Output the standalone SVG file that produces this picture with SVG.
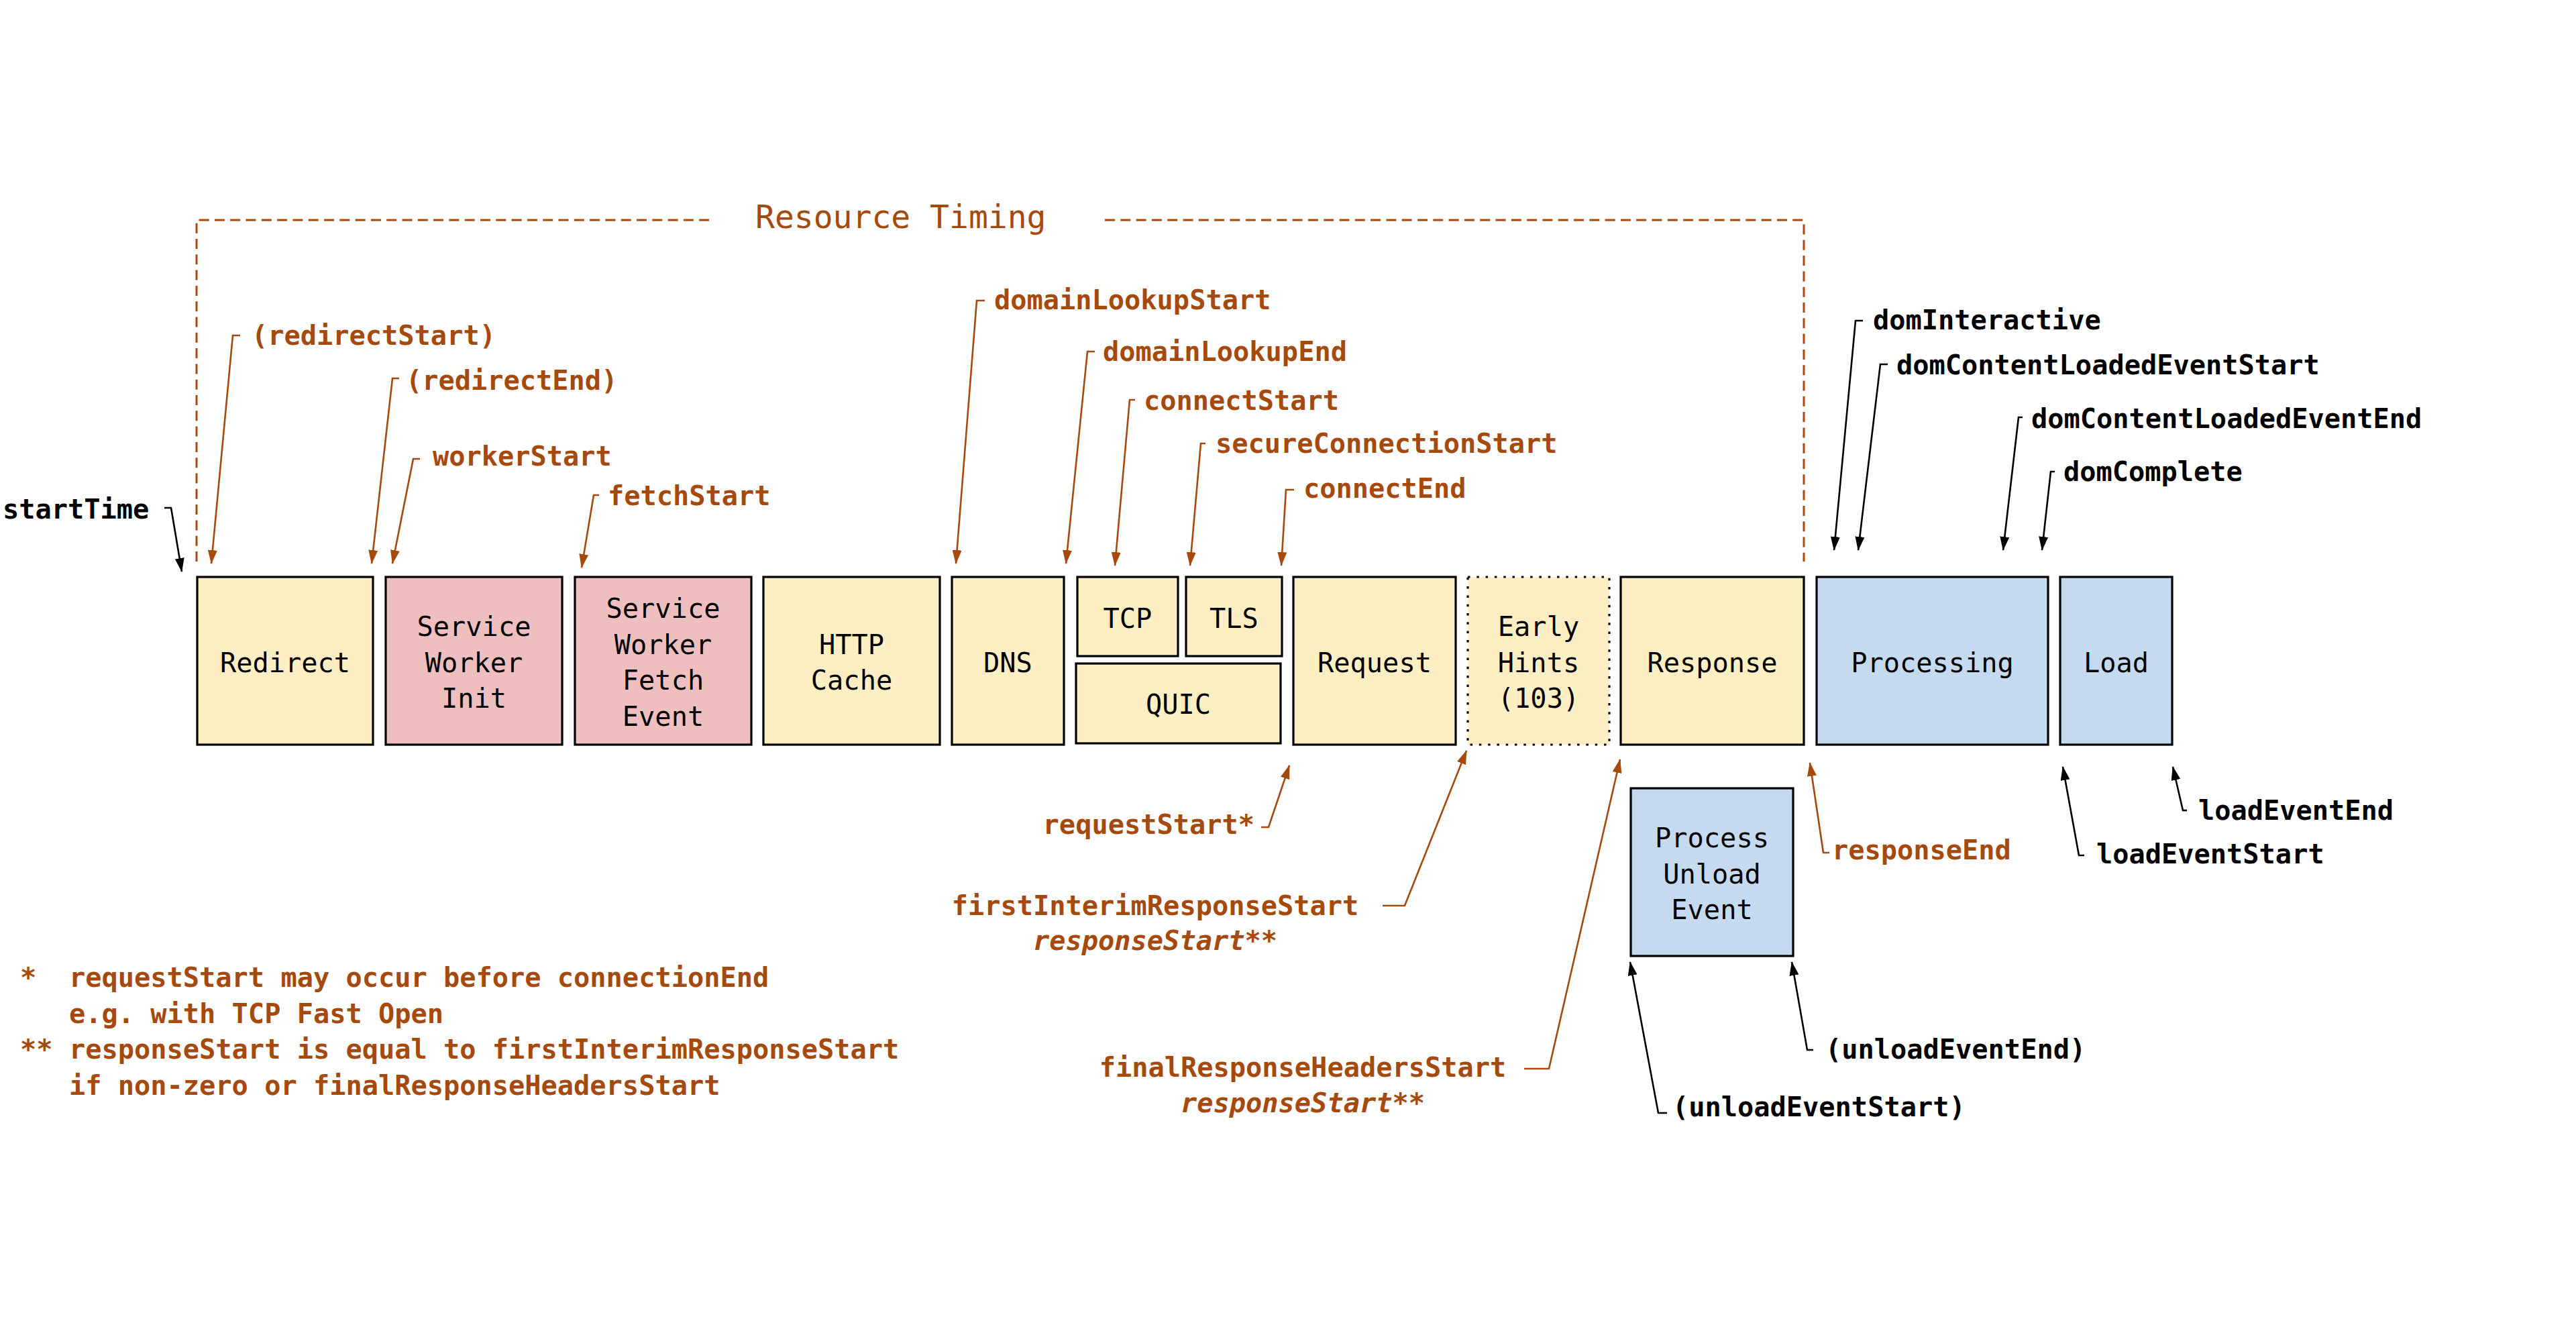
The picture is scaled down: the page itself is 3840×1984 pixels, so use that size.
<svg xmlns="http://www.w3.org/2000/svg" width="3840" height="1984" viewBox="0 0 3840 1984">
<style>
text{font-family:"DejaVu Sans Mono","Liberation Mono",monospace;font-size:40.3px}
.box{stroke:#000;stroke-width:3.2}
.y{fill:#FDEFC3}.p{fill:#EFBFBF}.b{fill:#C5DAEE}
.dot{stroke-dasharray:3.5 9.8;stroke-linecap:butt}
.nl{fill:#000;text-anchor:middle}
.ol{fill:#A5490D;font-weight:bold}
.bl{fill:#000;font-weight:bold}
.it{font-style:italic}
.title{fill:#A5490D;font-size:48px}
.lo{fill:none;stroke:#A5490D;stroke-width:2.6;marker-end:url(#ao)}
.lb{fill:none;stroke:#000;stroke-width:2.6;marker-end:url(#ab)}
.dash{fill:none;stroke:#A5490D;stroke-width:3;stroke-dasharray:15 8.3}
</style>
<defs>
<marker id="ao" markerUnits="userSpaceOnUse" markerWidth="22" markerHeight="14" refX="20" refY="7" orient="auto"><path d="M0,0 L21,7 L0,14 z" fill="#A5490D"/></marker>
<marker id="ab" markerUnits="userSpaceOnUse" markerWidth="22" markerHeight="14" refX="20" refY="7" orient="auto"><path d="M0,0 L21,7 L0,14 z" fill="#000"/></marker>
</defs>
<rect width="3840" height="1984" fill="#fff"/>

<g id="resource-timing">
<path class="dash" d="M293,837 L293,328 L1057,328"/>
<path class="dash" d="M1647,328 L2689,328 L2689,837"/>
<text class="title" x="1126" y="340">Resource Timing</text>
</g>

<g id="redirect"><rect class="box y" x="294" y="860" width="262" height="250"/><text class="nl" x="425" y="1002">Redirect</text></g>
<g id="sw-init"><rect class="box p" x="575" y="860" width="263" height="250"/><text class="nl" x="706.5" y="948">Service</text><text class="nl" x="706.5" y="1002">Worker</text><text class="nl" x="706.5" y="1055">Init</text></g>
<g id="sw-fetch"><rect class="box p" x="857" y="860" width="263" height="250"/><text class="nl" x="988.5" y="921">Service</text><text class="nl" x="988.5" y="975">Worker</text><text class="nl" x="988.5" y="1028">Fetch</text><text class="nl" x="988.5" y="1082">Event</text></g>
<g id="http-cache"><rect class="box y" x="1138" y="860" width="263" height="250"/><text class="nl" x="1269.5" y="975">HTTP</text><text class="nl" x="1269.5" y="1028">Cache</text></g>
<g id="dns"><rect class="box y" x="1419" y="860" width="167" height="250"/><text class="nl" x="1502.5" y="1002">DNS</text></g>
<g id="tcp"><rect class="box y" x="1606" y="860" width="150" height="118"/><text class="nl" x="1681" y="936">TCP</text></g>
<g id="tls"><rect class="box y" x="1768" y="860" width="143" height="118"/><text class="nl" x="1839.5" y="936">TLS</text></g>
<g id="quic"><rect class="box y" x="1604" y="989" width="305" height="119"/><text class="nl" x="1756.5" y="1064">QUIC</text></g>
<g id="request"><rect class="box y" x="1928" y="860" width="242" height="250"/><text class="nl" x="2049" y="1002">Request</text></g>
<g id="early-hints"><rect class="y" x="2188" y="860" width="211" height="250"/><rect class="dot" x="2188" y="860" width="211" height="250" fill="none" stroke="#000" stroke-width="3.2"/><text class="nl" x="2293.5" y="948">Early</text><text class="nl" x="2293.5" y="1002">Hints</text><text class="nl" x="2293.5" y="1055">(103)</text></g>
<g id="response"><rect class="box y" x="2416" y="860" width="273" height="250"/><text class="nl" x="2552.5" y="1002">Response</text></g>
<g id="processing"><rect class="box b" x="2708" y="860" width="345" height="250"/><text class="nl" x="2880.5" y="1002">Processing</text></g>
<g id="load"><rect class="box b" x="3071" y="860" width="167" height="250"/><text class="nl" x="3154.5" y="1002">Load</text></g>
<g id="unload"><rect class="box b" x="2431" y="1175" width="242" height="250"/><text class="nl" x="2552" y="1263">Process</text><text class="nl" x="2552" y="1317">Unload</text><text class="nl" x="2552" y="1370">Event</text></g>

<g id="connectors">
<path class="lb" d="M245,757 L255,757 L271,852"/>
<path class="lo" d="M358,500 L347,500 L315,840"/>
<path class="lo" d="M595,564 L585,564 L554,840"/>
<path class="lo" d="M626,684 L616,684 L585,840"/>
<path class="lo" d="M893,738 L885,738 L867,846"/>
<path class="lo" d="M1468,448 L1456,448 L1425,840"/>
<path class="lo" d="M1632,524 L1621,524 L1589,840"/>
<path class="lo" d="M1692,596 L1684,596 L1662,843"/>
<path class="lo" d="M1797,661 L1790,661 L1774,843"/>
<path class="lo" d="M1929,730 L1917,730 L1910,843"/>
<path class="lb" d="M2777,478 L2766,478 L2734,820"/>
<path class="lb" d="M2814,543 L2803,543 L2770,820"/>
<path class="lb" d="M3015,622 L3009,622 L2986,820"/>
<path class="lb" d="M3063,703 L3057,703 L3044,820"/>
<path class="lo" d="M1880,1233 L1891,1233 L1922,1141"/>
<path class="lo" d="M2061,1350 L2094,1350 L2186,1119"/>
<path class="lo" d="M2272,1593 L2309,1593 L2415,1132"/>
<path class="lo" d="M2727,1271 L2718,1271 L2698,1137"/>
<path class="lb" d="M3107,1275 L3099,1275 L3075,1143"/>
<path class="lb" d="M3260,1208 L3254,1208 L3239,1143"/>
<path class="lb" d="M2703,1565 L2694,1565 L2671,1434"/>
<path class="lb" d="M2485,1659 L2472,1659 L2430,1434"/>
</g>

<g id="labels">
<text class="bl" x="4" y="773">startTime</text>
<text class="ol" x="375" y="514">(redirectStart)</text>
<text class="ol" x="605" y="581">(redirectEnd)</text>
<text class="ol" x="645" y="694">workerStart</text>
<text class="ol" x="906" y="753">fetchStart</text>
<text class="ol" x="1482" y="461">domainLookupStart</text>
<text class="ol" x="1644" y="538">domainLookupEnd</text>
<text class="ol" x="1705" y="611">connectStart</text>
<text class="ol" x="1812" y="675">secureConnectionStart</text>
<text class="ol" x="1943" y="742">connectEnd</text>
<text class="bl" x="2792" y="491">domInteractive</text>
<text class="bl" x="2827" y="558">domContentLoadedEventStart</text>
<text class="bl" x="3028" y="638">domContentLoadedEventEnd</text>
<text class="bl" x="3076" y="717">domComplete</text>
<text class="ol" x="1870" y="1243" text-anchor="end">requestStart*</text>
<text class="ol" x="1722" y="1364" text-anchor="middle">firstInterimResponseStart</text>
<text class="ol it" x="1722" y="1416" text-anchor="middle">responseStart**</text>
<text class="ol" x="1942" y="1605" text-anchor="middle">finalResponseHeadersStart</text>
<text class="ol it" x="1942" y="1658" text-anchor="middle">responseStart**</text>
<text class="ol" x="2731" y="1281">responseEnd</text>
<text class="bl" x="3125" y="1287">loadEventStart</text>
<text class="bl" x="3277" y="1222">loadEventEnd</text>
<text class="bl" x="2721" y="1578">(unloadEventEnd)</text>
<text class="bl" x="2493" y="1664">(unloadEventStart)</text>
</g>

<g id="footnotes">
<text class="ol" x="30" y="1471">*</text>
<text class="ol" x="103" y="1471">requestStart may occur before connectionEnd</text>
<text class="ol" x="103" y="1525">e.g. with TCP Fast Open</text>
<text class="ol" x="30" y="1578">**</text>
<text class="ol" x="103" y="1578">responseStart is equal to firstInterimResponseStart</text>
<text class="ol" x="103" y="1632">if non-zero or finalResponseHeadersStart</text>
</g>
</svg>
